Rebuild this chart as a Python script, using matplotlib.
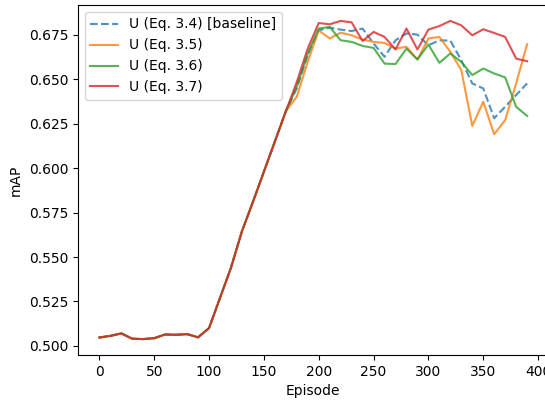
import matplotlib
matplotlib.use("Agg")
from matplotlib import pyplot as plt
import numpy as np

episodes = np.arange(0, 400, 10)

# shared warm-up phase (episodes 0..170), identical for all variants
warmup = [0.5047, 0.5056, 0.5070, 0.5040, 0.5038, 0.5043, 0.5064, 0.5062, 0.5066, 0.5048,
          0.5100, 0.5270, 0.5440, 0.5645, 0.5810, 0.5980, 0.6150, 0.6320]

u_34 = warmup + [0.6450, 0.6636, 0.6776, 0.6791, 0.6780, 0.6772, 0.6786, 0.6702, 0.6627,
                 0.6720, 0.6758, 0.6752, 0.6692, 0.6720, 0.6718, 0.6608, 0.6477, 0.6449,
                 0.6281, 0.6346, 0.6412, 0.6477]
u_35 = warmup + [0.6402, 0.6600, 0.6776, 0.6730, 0.6763, 0.6748, 0.6724, 0.6711, 0.6705,
                 0.6673, 0.6683, 0.6612, 0.6730, 0.6739, 0.6655, 0.6552, 0.6238, 0.6374,
                 0.6191, 0.6271, 0.6477, 0.6698]
u_36 = warmup + [0.6460, 0.6646, 0.6786, 0.6795, 0.6720, 0.6711, 0.6688, 0.6677, 0.6589,
                 0.6586, 0.6673, 0.6612, 0.6696, 0.6593, 0.6646, 0.6598, 0.6524, 0.6561,
                 0.6533, 0.6511, 0.6346, 0.6294]
u_37 = warmup + [0.6485, 0.6674, 0.6817, 0.6810, 0.6829, 0.6821, 0.6716, 0.6767, 0.6739,
                 0.6668, 0.6786, 0.6668, 0.6780, 0.6800, 0.6829, 0.6804, 0.6748, 0.6782,
                 0.6761, 0.6739, 0.6617, 0.6602]

fig = plt.figure(figsize=(5.45, 4.03), dpi=100)
ax = fig.add_axes([0.1431, 0.1191, 0.8633, 0.8685])

ax.plot(episodes, u_34, '--', color='tab:blue', alpha=0.8, label='U (Eq. 3.4) [baseline]')
ax.plot(episodes, u_35, color='tab:orange', alpha=0.8, label='U (Eq. 3.5)')
ax.plot(episodes, u_36, color='tab:green', alpha=0.8, label='U (Eq. 3.6)')
ax.plot(episodes, u_37, color='tab:red', alpha=0.8, label='U (Eq. 3.7)')

ax.set_xlabel('Episode')
ax.set_ylabel('mAP')
ax.legend(loc='upper left')

fig.savefig('out.png', dpi=100)
